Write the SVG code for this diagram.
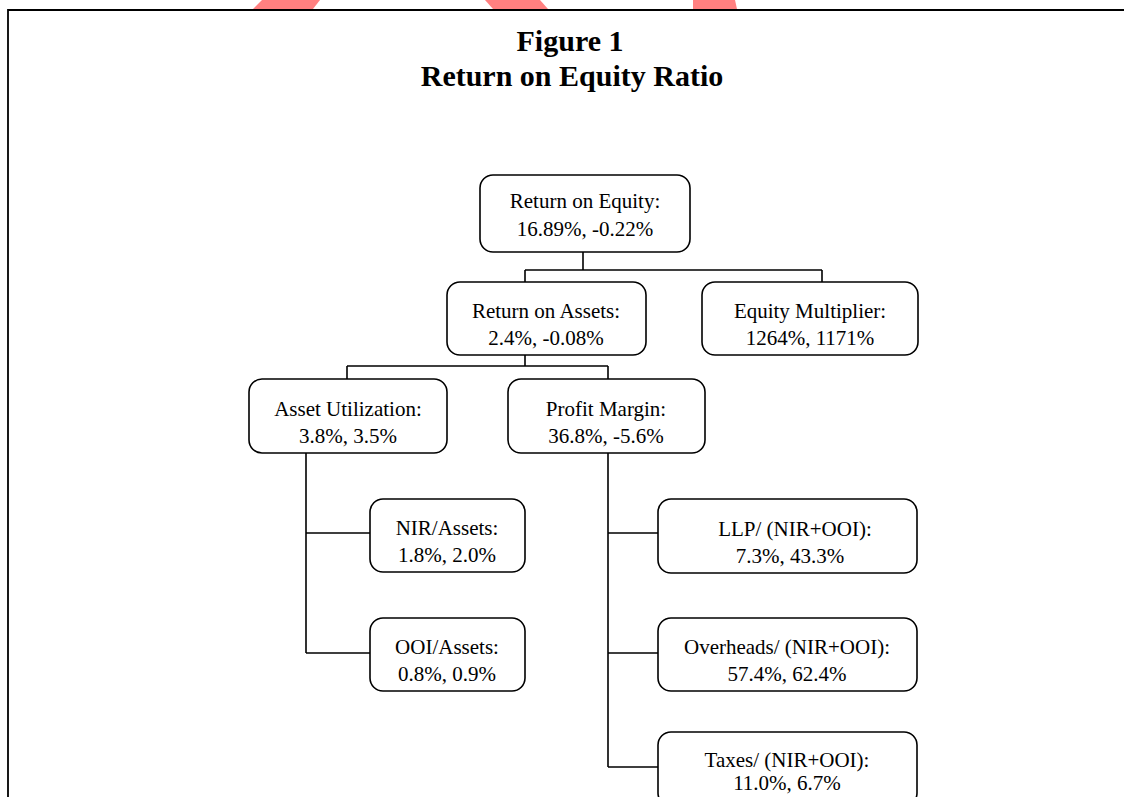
<svg xmlns="http://www.w3.org/2000/svg" width="1124" height="797" viewBox="0 0 1124 797">
<style>
.box{fill:#fff;stroke:#000;stroke-width:1.6}
.t{font-family:"Liberation Serif","Times New Roman",serif;font-size:21px;fill:#000;text-anchor:middle}
.title{font-family:"Liberation Serif","Times New Roman",serif;font-size:30px;font-weight:bold;fill:#000;text-anchor:middle}
.c{fill:none;stroke:#000;stroke-width:1.6}
.wm{fill:#ff8080}
</style>
<rect width="1124" height="797" fill="#fff"/>
<g id="watermark">
<polygon class="wm" points="262,0 320,0 313,9 253,9"/>
<polygon class="wm" points="485,0 540,0 548,9 493,9"/>
<path class="wm" d="M693,0 L735,0 L737,9 L693,9 Z"/>
</g>
<g id="frame">
<path d="M8,797 L8,10 L1124,10" fill="none" stroke="#000" stroke-width="1.8"/>
</g>
<g id="title">
<text class="title" x="570" y="51">Figure 1</text>
<text class="title" x="572" y="86">Return on Equity Ratio</text>
</g>
<g id="connectors">
<path class="c" d="M583,252 V270 M525,270 H822 M525,270 V282 M822,270 V282"/>
<path class="c" d="M525,355 V366 M347,366 H608 M347,366 V379 M608,366 V379"/>
<path class="c" d="M306,453 V653 M306,533 H370 M306,653 H370"/>
<path class="c" d="M608,453 V767 M608,533 H658 M608,653 H658 M608,767 H658"/>
</g>
<g id="roe">
<rect class="box" x="480" y="175" width="210" height="77" rx="13"/>
<text class="t" x="585" y="208">Return on Equity:</text>
<text class="t" x="585" y="236">16.89%, -0.22%</text>
</g>
<g id="roa">
<rect class="box" x="447" y="282" width="199" height="73" rx="13"/>
<text class="t" x="546" y="318">Return on Assets:</text>
<text class="t" x="546" y="345">2.4%, -0.08%</text>
</g>
<g id="em">
<rect class="box" x="702" y="282" width="216" height="73" rx="13"/>
<text class="t" x="810" y="318">Equity Multiplier:</text>
<text class="t" x="810" y="345">1264%, 1171%</text>
</g>
<g id="au">
<rect class="box" x="249" y="379" width="198" height="74" rx="13"/>
<text class="t" x="348" y="416">Asset Utilization:</text>
<text class="t" x="348" y="443">3.8%, 3.5%</text>
</g>
<g id="pm">
<rect class="box" x="508" y="379" width="197" height="74" rx="13"/>
<text class="t" x="606" y="416">Profit Margin:</text>
<text class="t" x="606" y="443">36.8%, -5.6%</text>
</g>
<g id="nir">
<rect class="box" x="370" y="499" width="155" height="73" rx="13"/>
<text class="t" x="447" y="535">NIR/Assets:</text>
<text class="t" x="447" y="562">1.8%, 2.0%</text>
</g>
<g id="ooi">
<rect class="box" x="370" y="618" width="155" height="73" rx="13"/>
<text class="t" x="447" y="654">OOI/Assets:</text>
<text class="t" x="447" y="681">0.8%, 0.9%</text>
</g>
<g id="llp">
<rect class="box" x="658" y="499" width="259" height="74" rx="13"/>
<text class="t" x="795" y="536">LLP/ (NIR+OOI):</text>
<text class="t" x="790" y="563">7.3%, 43.3%</text>
</g>
<g id="ovh">
<rect class="box" x="658" y="618" width="259" height="73" rx="13"/>
<text class="t" x="787" y="654">Overheads/ (NIR+OOI):</text>
<text class="t" x="787" y="681">57.4%, 62.4%</text>
</g>
<g id="tax">
<rect class="box" x="658" y="732" width="259" height="74" rx="13"/>
<text class="t" x="787" y="767">Taxes/ (NIR+OOI):</text>
<text class="t" x="787" y="790">11.0%, 6.7%</text>
</g>
</svg>
